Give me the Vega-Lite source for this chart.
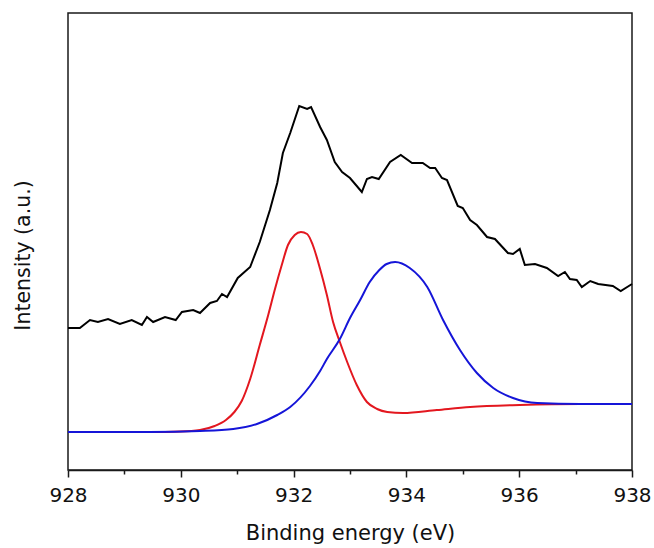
{
  "$schema": "https://vega.github.io/schema/vega-lite/v6.json",
  "width": 564,
  "height": 457,
  "autosize": "none",
  "padding": {"left": 68, "top": 13, "right": 22, "bottom": 78},
  "config": {
    "view": {"stroke": "#1a1a1a", "strokeWidth": 1.5},
    "font": "DejaVu Sans"
  },
  "datasets": {
    "raw": [
      {"x": 928.00, "y": 142}, {"x": 928.21, "y": 142}, {"x": 928.39, "y": 150}, {"x": 928.53, "y": 148},
      {"x": 928.71, "y": 151}, {"x": 928.92, "y": 146}, {"x": 929.13, "y": 150}, {"x": 929.31, "y": 145},
      {"x": 929.40, "y": 153}, {"x": 929.51, "y": 148}, {"x": 929.72, "y": 153}, {"x": 929.91, "y": 150},
      {"x": 930.02, "y": 158}, {"x": 930.22, "y": 160}, {"x": 930.34, "y": 157}, {"x": 930.52, "y": 167},
      {"x": 930.64, "y": 169}, {"x": 930.73, "y": 176}, {"x": 930.82, "y": 173}, {"x": 931.01, "y": 192},
      {"x": 931.23, "y": 203}, {"x": 931.40, "y": 228}, {"x": 931.58, "y": 260}, {"x": 931.71, "y": 287},
      {"x": 931.81, "y": 317}, {"x": 931.94, "y": 337}, {"x": 932.10, "y": 364}, {"x": 932.24, "y": 361},
      {"x": 932.31, "y": 363}, {"x": 932.47, "y": 343}, {"x": 932.59, "y": 330}, {"x": 932.73, "y": 308},
      {"x": 932.86, "y": 298}, {"x": 933.00, "y": 292}, {"x": 933.21, "y": 278}, {"x": 933.30, "y": 291},
      {"x": 933.39, "y": 293}, {"x": 933.51, "y": 291}, {"x": 933.71, "y": 308}, {"x": 933.90, "y": 315},
      {"x": 934.10, "y": 307}, {"x": 934.29, "y": 307}, {"x": 934.42, "y": 302}, {"x": 934.51, "y": 302},
      {"x": 934.63, "y": 292}, {"x": 934.72, "y": 290}, {"x": 934.91, "y": 264}, {"x": 935.00, "y": 262},
      {"x": 935.13, "y": 250}, {"x": 935.25, "y": 245}, {"x": 935.43, "y": 233}, {"x": 935.57, "y": 231},
      {"x": 935.80, "y": 217}, {"x": 935.89, "y": 216}, {"x": 936.01, "y": 221}, {"x": 936.10, "y": 205},
      {"x": 936.28, "y": 206}, {"x": 936.49, "y": 202}, {"x": 936.69, "y": 194}, {"x": 936.81, "y": 198},
      {"x": 936.90, "y": 191}, {"x": 937.02, "y": 190}, {"x": 937.11, "y": 183}, {"x": 937.26, "y": 189},
      {"x": 937.40, "y": 186}, {"x": 937.66, "y": 184}, {"x": 937.80, "y": 179}, {"x": 938.00, "y": 186}
    ],
    "red": [
      {"x": 928.00, "y": 38}, {"x": 929.45, "y": 38}, {"x": 929.99, "y": 38.5}, {"x": 930.34, "y": 40},
      {"x": 930.60, "y": 44}, {"x": 930.80, "y": 50}, {"x": 930.95, "y": 58}, {"x": 931.08, "y": 69}, {"x": 931.23, "y": 91},
      {"x": 931.40, "y": 125}, {"x": 931.55, "y": 155}, {"x": 931.67, "y": 181}, {"x": 931.79, "y": 205},
      {"x": 931.90, "y": 225}, {"x": 932.02, "y": 235}, {"x": 932.13, "y": 238}, {"x": 932.24, "y": 236},
      {"x": 932.34, "y": 225}, {"x": 932.47, "y": 201}, {"x": 932.59, "y": 175}, {"x": 932.70, "y": 148},
      {"x": 932.82, "y": 128}, {"x": 932.95, "y": 108}, {"x": 933.12, "y": 85}, {"x": 933.30, "y": 68},
      {"x": 933.48, "y": 61}, {"x": 933.66, "y": 58}, {"x": 933.94, "y": 57},
      {"x": 934.54, "y": 60}, {"x": 935.13, "y": 63}, {"x": 936.01, "y": 65}, {"x": 937.08, "y": 66},
      {"x": 938.00, "y": 66}
    ],
    "blue": [
      {"x": 928.00, "y": 38}, {"x": 929.45, "y": 38}, {"x": 930.34, "y": 39}, {"x": 930.93, "y": 41},
      {"x": 931.35, "y": 46}, {"x": 931.71, "y": 55}, {"x": 931.94, "y": 63}, {"x": 932.29, "y": 84},
      {"x": 932.47, "y": 99}, {"x": 932.59, "y": 111}, {"x": 932.82, "y": 131}, {"x": 933.00, "y": 152},
      {"x": 933.18, "y": 170}, {"x": 933.35, "y": 188}, {"x": 933.52, "y": 200}, {"x": 933.65, "y": 206},
      {"x": 933.80, "y": 208}, {"x": 934.06, "y": 202}, {"x": 934.37, "y": 183}, {"x": 934.65, "y": 150},
      {"x": 934.95, "y": 120}, {"x": 935.25, "y": 97}, {"x": 935.54, "y": 82}, {"x": 935.89, "y": 72},
      {"x": 936.32, "y": 67}, {"x": 937.08, "y": 66}, {"x": 938.00, "y": 66}
    ]
  },
  "encoding": {
    "x": {
      "field": "x", "type": "quantitative",
      "scale": {"domain": [928, 938], "nice": false, "zero": false},
      "axis": {
        "title": "Binding energy (eV)",
        "values": [928, 929, 930, 931, 932, 933, 934, 935, 936, 937, 938],
        "labelExpr": "datum.value % 2 === 0 ? datum.label : ''",
        "grid": false,
        "domainColor": "#1a1a1a", "domainWidth": 1.5,
        "tickColor": "#1a1a1a", "tickWidth": 1.5,
        "tickSize": {"condition": {"test": "datum.value % 2 === 0", "value": 7}, "value": 4},
        "labelFontSize": 20, "labelColor": "#111", "labelPadding": 8,
        "labelFlush": false, "labelOverlap": false,
        "titleFontSize": 21, "titleFontWeight": "normal", "titleColor": "#111", "titlePadding": 17
      }
    },
    "y": {
      "field": "y", "type": "quantitative",
      "scale": {"domain": [0, 457], "nice": false},
      "axis": {
        "title": "Intensity (a.u.)", "grid": false, "ticks": false, "labels": false, "domain": false,
        "titleFontSize": 20.5, "titleFontWeight": "normal", "titleColor": "#111", "titlePadding": 35,
        "titleY": 242
      }
    }
  },
  "layer": [
    {"data": {"name": "raw"}, "mark": {"type": "line", "color": "#000000", "strokeWidth": 2, "interpolate": "linear"}},
    {"data": {"name": "red"}, "mark": {"type": "line", "color": "#e3171f", "strokeWidth": 2, "interpolate": "monotone"}},
    {"data": {"name": "blue"}, "mark": {"type": "line", "color": "#1515d8", "strokeWidth": 2, "interpolate": "monotone"}}
  ]
}
